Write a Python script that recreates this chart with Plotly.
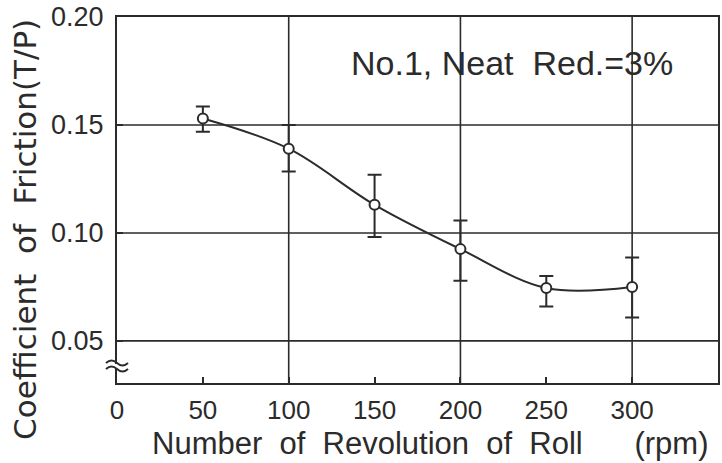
import plotly.graph_objects as go

# Coefficient of friction vs. roll speed (No.1, neat oil, reduction 3%)
rpm = [50, 100, 150, 200, 250, 300]
mu_mean = [0.153, 0.139, 0.113, 0.0925, 0.0745, 0.075]
mu_high = [0.1585, 0.150, 0.127, 0.1057, 0.080, 0.0886]
mu_low = [0.1469, 0.1284, 0.0981, 0.0779, 0.0659, 0.0608]

x_ticks = [0, 50, 100, 150, 200, 250, 300]
y_ticks = [0.05, 0.10, 0.15, 0.20]
y_tick_text = ["0.05", "0.10", "0.15", "0.20"]
x_grid = [100, 200, 300]
y_grid = [0.05, 0.10, 0.15]

X_RANGE = [0, 350]
Y_RANGE = [0.0305, 0.2]

INK = "#2b2b2b"
FONT = "Liberation Sans"
WIDE_FONT = "DejaVu Sans"

err_plus = [h - m for h, m in zip(mu_high, mu_mean)]
err_minus = [m - l for m, l in zip(mu_mean, mu_low)]

fig = go.Figure()

fig.add_trace(go.Scatter(
    x=rpm, y=mu_mean,
    mode="lines+markers",
    line=dict(color=INK, width=2, shape="spline", smoothing=1.0),
    marker=dict(symbol="circle", size=10, color="white",
                line=dict(color=INK, width=2)),
    error_y=dict(type="data", symmetric=False, array=err_plus,
                 arrayminus=err_minus, color=INK, thickness=2, width=7),
    showlegend=False,
))

shapes = []
for gx in x_grid:
    shapes.append(dict(type="line", xref="x", yref="y domain", x0=gx, x1=gx,
                       y0=0, y1=1, line=dict(color=INK, width=1.6), layer="below"))
for gy in y_grid:
    shapes.append(dict(type="line", xref="x domain", yref="y", x0=0, x1=1,
                       y0=gy, y1=gy, line=dict(color=INK, width=1.6), layer="below"))

# axis break marks on the left spine (pixel offsets from the lower-left corner)
shapes.append(dict(type="rect", xref="paper", yref="paper", xsizemode="pixel",
                   ysizemode="pixel", xanchor=0, yanchor=0,
                   x0=-3, x1=3, y0=15, y1=19,
                   fillcolor="white", line=dict(width=0), layer="above"))
for off in (14, 20):
    shapes.append(dict(type="path", xref="paper", yref="paper", xsizemode="pixel",
                       ysizemode="pixel", xanchor=0, yanchor=0,
                       path=f"M -11,{off} Q -5.5,{off + 5} 0,{off} T 11,{off}",
                       line=dict(color=INK, width=2), layer="above"))

fig.update_layout(
    width=722, height=463,
    margin=dict(l=117, r=2, t=16, b=80),
    paper_bgcolor="white", plot_bgcolor="white",
    font=dict(family=FONT, color=INK, size=26),
    shapes=shapes,
    annotations=[
        dict(text="No.1, Neat  Red.=3%", xref="paper", yref="paper",
             x=0.658, y=0.875, xanchor="center", yanchor="middle",
             showarrow=False, font=dict(size=34, family=FONT, color=INK)),
        dict(text="Coefficient  of  Friction(T/P)", xref="paper", yref="paper",
             x=-0.152, y=0.42, xanchor="center", yanchor="middle",
             textangle=-90, showarrow=False,
             font=dict(size=31, family=WIDE_FONT, color=INK)),
        dict(text="Number  of  Revolution  of  Roll      (rpm)", xref="paper",
             yref="paper", x=0.52, y=-0.113, xanchor="center", yanchor="top",
             showarrow=False, font=dict(size=31, family=FONT, color=INK)),
    ],
)

fig.update_xaxes(
    range=X_RANGE, tickvals=x_ticks, ticks="inside", ticklen=6,
    tickwidth=1.5, tickcolor=INK, showgrid=False, zeroline=False,
    showline=True, linecolor=INK, linewidth=2, mirror=True,
    tickfont=dict(size=26), ticklabelstandoff=3,
)
fig.update_yaxes(
    range=Y_RANGE, tickvals=y_ticks, ticktext=y_tick_text, ticks="inside",
    ticklen=6, tickwidth=1.5, tickcolor=INK, showgrid=False, zeroline=False,
    showline=True, linecolor=INK, linewidth=2, mirror=True,
    tickfont=dict(size=27), ticklabelstandoff=6,
)

fig.write_html("out.html")
